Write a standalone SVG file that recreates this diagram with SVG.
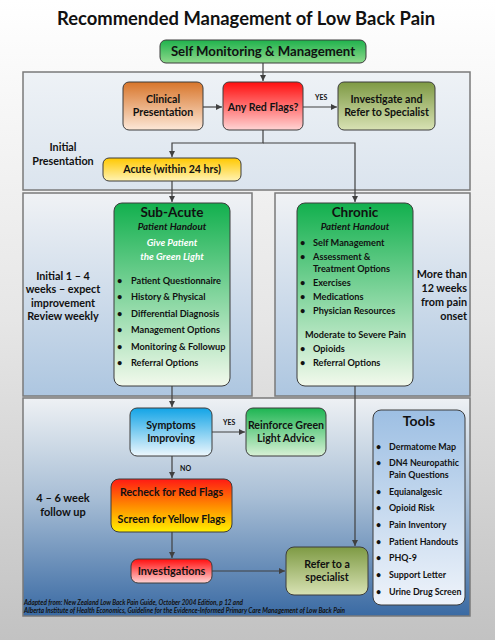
<svg xmlns="http://www.w3.org/2000/svg" width="495" height="640" viewBox="0 0 495 640">
<defs>
<linearGradient id="gPage" x1="0" y1="0" x2="0" y2="1"><stop offset="0" stop-color="#ffffff"/><stop offset="0.5" stop-color="#e6e6e6"/><stop offset="1" stop-color="#c2c2c2"/></linearGradient>
<linearGradient id="gP1" x1="0" y1="0" x2="0" y2="1"><stop offset="0" stop-color="#eef2f6"/><stop offset="1" stop-color="#dbe4ee"/></linearGradient>
<linearGradient id="gP2" x1="0" y1="0" x2="0" y2="1"><stop offset="0" stop-color="#f0f2f5"/><stop offset="1" stop-color="#adc6e0"/></linearGradient>
<linearGradient id="gP3" x1="0" y1="0" x2="0" y2="1"><stop offset="0" stop-color="#eef1f4"/><stop offset="0.45" stop-color="#a9bfd6"/><stop offset="1" stop-color="#3a6aa3"/></linearGradient>
<linearGradient id="gGreen" x1="0" y1="0" x2="0" y2="1"><stop offset="0" stop-color="#1fb24c"/><stop offset="1" stop-color="#8ed98c"/></linearGradient>
<linearGradient id="gGreen2" x1="0" y1="0" x2="0" y2="1"><stop offset="0" stop-color="#12b04e"/><stop offset="1" stop-color="#f2f9ec"/></linearGradient>
<linearGradient id="gGreen3" x1="0" y1="0" x2="0" y2="1"><stop offset="0" stop-color="#1db552"/><stop offset="1" stop-color="#d9f1d6"/></linearGradient>
<linearGradient id="gOrange" x1="0" y1="0" x2="0" y2="1"><stop offset="0" stop-color="#d8752a"/><stop offset="1" stop-color="#fde8d8"/></linearGradient>
<linearGradient id="gRed" x1="0" y1="0" x2="0" y2="1"><stop offset="0" stop-color="#ff0e0e"/><stop offset="1" stop-color="#ffd4d4"/></linearGradient>
<linearGradient id="gOlive" x1="0" y1="0" x2="0" y2="1"><stop offset="0" stop-color="#7e9a44"/><stop offset="1" stop-color="#d8e2b4"/></linearGradient>
<linearGradient id="gYellow" x1="0" y1="0" x2="0" y2="1"><stop offset="0" stop-color="#ffc800"/><stop offset="1" stop-color="#fff3b4"/></linearGradient>
<linearGradient id="gBlue" x1="0" y1="0" x2="0" y2="1"><stop offset="0" stop-color="#12a4e6"/><stop offset="1" stop-color="#eef7fd"/></linearGradient>
<linearGradient id="gFlags" x1="0" y1="0" x2="0" y2="1"><stop offset="0" stop-color="#ff1a14"/><stop offset="0.5" stop-color="#ff8a00"/><stop offset="1" stop-color="#fff000"/></linearGradient>
<linearGradient id="gTools" x1="0" y1="0" x2="0" y2="1"><stop offset="0" stop-color="#9dbfe3"/><stop offset="1" stop-color="#eef3fa"/></linearGradient>
<marker id="arr" markerWidth="8" markerHeight="8" refX="6" refY="3" orient="auto" markerUnits="userSpaceOnUse"><path d="M0,0 L6,3 L0,6 Z" fill="#404040"/></marker>
</defs>
<style>
text{font-family:Lato,"Liberation Sans",sans-serif;font-weight:bold;fill:#111111}
.c{text-anchor:middle}
.r{text-anchor:end}
.panel{stroke:#7a7a7a;stroke-width:1.5}
.box{stroke:#3c3c3c;stroke-width:1}
.lbl{font-size:10.6px}
.bl{font-size:9.2px}
.side{font-size:10.8px}
.conn line,.conn polyline{stroke:#404040;stroke-width:1.2;fill:none}
.ital{font-style:italic}
.tag{font-size:7px}
</style>
<rect x="0" y="0" width="495" height="640" fill="url(#gPage)"/>
<text class="c" x="246" y="25" style="font-size:18.4px">Recommended Management of Low Back Pain</text>

<g id="panel-initial"><rect class="panel" x="23" y="72" width="447" height="118" fill="url(#gP1)"/></g>
<g id="panel-subacute"><rect class="panel" x="23" y="193" width="229" height="203" fill="url(#gP2)"/></g>
<g id="panel-chronic"><rect class="panel" x="275" y="193" width="195" height="203" fill="url(#gP2)"/></g>
<g id="panel-followup"><rect class="panel" x="23" y="398" width="447" height="218" fill="url(#gP3)"/></g>

<g class="conn">
<line x1="263" y1="63" x2="263" y2="81" marker-end="url(#arr)"/>
<line x1="203" y1="107" x2="222" y2="107" marker-end="url(#arr)"/>
<line x1="303" y1="107" x2="337" y2="107" marker-end="url(#arr)"/>
<polyline points="263,130 263,143 172,143 172,157" marker-end="url(#arr)"/>
<polyline points="263,143 355,143 355,202" marker-end="url(#arr)"/>
<line x1="172" y1="181" x2="172" y2="202" marker-end="url(#arr)"/>
<line x1="172" y1="386" x2="172" y2="407" marker-end="url(#arr)"/>
<line x1="212" y1="432" x2="245" y2="432" marker-end="url(#arr)"/>
<line x1="172" y1="456" x2="172" y2="478" marker-end="url(#arr)"/>
<line x1="172" y1="532" x2="172" y2="558" marker-end="url(#arr)"/>
<line x1="212" y1="571" x2="285" y2="571" marker-end="url(#arr)"/>
<line x1="355" y1="386" x2="355" y2="546" marker-end="url(#arr)"/>
</g>
<text class="tag" x="315" y="100">YES</text>
<text class="tag" x="223" y="425">YES</text>
<text class="tag" x="180" y="471">NO</text>

<g id="self-monitoring"><rect class="box" x="160" y="40" width="206" height="23" rx="6" fill="url(#gGreen)"/><text class="c" x="263" y="56" style="font-size:13.2px">Self Monitoring &amp; Management</text></g>
<g id="clinical"><rect class="box" x="123" y="82" width="80" height="48" rx="6" fill="url(#gOrange)"/><text class="c lbl" x="163" y="103">Clinical</text><text class="c lbl" x="163" y="116">Presentation</text></g>
<g id="red-flags"><rect class="box" x="223" y="82" width="80" height="48" rx="6" fill="url(#gRed)"/><text class="c lbl" x="263" y="111">Any Red Flags?</text></g>
<g id="investigate"><rect class="box" x="338" y="82" width="97" height="48" rx="6" fill="url(#gOlive)"/><text class="c lbl" x="386.5" y="103">Investigate and</text><text class="c lbl" x="386.5" y="116">Refer to Specialist</text></g>
<g id="initial-label"><text class="c side" x="63" y="151">Initial</text><text class="c side" x="63" y="165">Presentation</text></g>
<g id="acute"><rect class="box" x="103" y="158" width="138" height="23" rx="6" fill="url(#gYellow)"/><text class="c lbl" x="172" y="173">Acute (within 24 hrs)</text></g>

<g id="subacute-label"><text class="c side" x="63" y="280">Initial 1 – 4</text><text class="c side" x="63" y="293">weeks – expect</text><text class="c side" x="63" y="306.5">improvement</text><text class="c side" x="63" y="320">Review weekly</text></g>
<g id="subacute">
<rect class="box" x="114" y="203" width="116" height="183" rx="8" fill="url(#gGreen2)"/>
<text class="c" x="172" y="216.5" style="font-size:13.5px">Sub-Acute</text>
<text class="c ital" x="172" y="230" style="font-size:9.8px">Patient Handout</text>
<text class="c ital" x="172" y="246" style="font-size:9.8px;fill:#ffffff">Give Patient</text>
<text class="c ital" x="172" y="260" style="font-size:9.8px;fill:#ffffff">the Green Light</text>
<g class="bl"><text x="117" y="283.5">•</text><text x="131" y="283.5">Patient Questionnaire</text>
<text x="117" y="300">•</text><text x="131" y="300">History &amp; Physical</text>
<text x="117" y="316.5">•</text><text x="131" y="316.5">Differential Diagnosis</text>
<text x="117" y="333">•</text><text x="131" y="333">Management Options</text>
<text x="117" y="349.5">•</text><text x="131" y="349.5">Monitoring &amp; Followup</text>
<text x="117" y="366">•</text><text x="131" y="366">Referral Options</text></g>
</g>

<g id="chronic">
<rect class="box" x="297" y="203" width="116" height="183" rx="8" fill="url(#gGreen2)"/>
<text class="c" x="355" y="217" style="font-size:13.5px">Chronic</text>
<text class="c ital" x="355" y="230" style="font-size:9.8px">Patient Handout</text>
<g class="bl"><text x="300" y="245.5">•</text><text x="313" y="245.5">Self Management</text>
<text x="300" y="259.5">•</text><text x="313" y="259.5">Assessment &amp;</text>
<text x="313" y="271.5">Treatment Options</text>
<text x="300" y="285.5">•</text><text x="313" y="285.5">Exercises</text>
<text x="300" y="299.5">•</text><text x="313" y="299.5">Medications</text>
<text x="300" y="313.5">•</text><text x="313" y="313.5">Physician Resources</text>
<text x="305" y="337.5">Moderate to Severe Pain</text>
<text x="300" y="351.5">•</text><text x="313" y="351.5">Opioids</text>
<text x="300" y="365.5">•</text><text x="313" y="365.5">Referral Options</text></g>
</g>
<g id="chronic-label"><text class="r side" x="467" y="278">More than</text><text class="r side" x="467" y="292">12 weeks</text><text class="r side" x="467" y="305.5">from pain</text><text class="r side" x="467" y="319.5">onset</text></g>

<g id="symptoms"><rect class="box" x="130" y="408" width="82" height="48" rx="7" fill="url(#gBlue)"/><text class="c lbl" x="171" y="429">Symptoms</text><text class="c lbl" x="171" y="442">Improving</text></g>
<g id="reinforce"><rect class="box" x="246" y="408" width="80" height="48" rx="7" fill="url(#gGreen3)"/><text class="c lbl" x="286" y="429">Reinforce Green</text><text class="c lbl" x="286" y="442">Light Advice</text></g>
<g id="followup-label"><text class="c" x="63" y="502" style="font-size:11px">4 – 6 week</text><text class="c" x="63" y="516" style="font-size:11px">follow up</text></g>
<g id="recheck"><rect class="box" x="111" y="479" width="121" height="53" rx="8" fill="url(#gFlags)"/><text class="c lbl" x="171.5" y="496">Recheck for Red Flags</text><text class="c lbl" x="171.5" y="523">Screen for Yellow Flags</text></g>
<g id="investigations"><rect class="box" x="131" y="559" width="81" height="24" rx="7" fill="url(#gRed)"/><text class="c" x="171.5" y="575" style="font-size:10.9px">Investigations</text></g>
<g id="refer"><rect class="box" x="286" y="547" width="82" height="48" rx="8" fill="url(#gOlive)"/><text class="c lbl" x="327" y="568">Refer to a</text><text class="c lbl" x="327" y="581">specialist</text></g>
<g id="tools">
<rect class="box" x="373" y="410" width="92" height="195" rx="8" fill="url(#gTools)"/>
<text class="c" x="419" y="426" style="font-size:14px">Tools</text>
<g style="font-size:8.9px"><text x="376" y="450">•</text><text x="389" y="450">Dermatome Map</text>
<text x="376" y="466">•</text><text x="389" y="466">DN4 Neuropathic</text>
<text x="389" y="478">Pain Questions</text>
<text x="376" y="495">•</text><text x="389" y="495">Equianalgesic</text>
<text x="376" y="511">•</text><text x="389" y="511">Opioid Risk</text>
<text x="376" y="528">•</text><text x="389" y="528">Pain Inventory</text>
<text x="376" y="545">•</text><text x="389" y="545">Patient Handouts</text>
<text x="376" y="561">•</text><text x="389" y="561">PHQ-9</text>
<text x="376" y="578">•</text><text x="389" y="578">Support Letter</text>
<text x="376" y="595">•</text><text x="389" y="595">Urine Drug Screen</text></g>
</g>
<g id="footnote"><text class="ital" x="24" y="605" style="font-size:6.5px" textLength="219" lengthAdjust="spacingAndGlyphs">Adapted from: New Zealand Low Back Pain Guide, October 2004 Edition, p 12 and</text><text class="ital" x="24" y="613" style="font-size:6.5px" textLength="321" lengthAdjust="spacingAndGlyphs">Alberta Institute of Health Economics, Guideline for the Evidence-Informed Primary Care Management of Low Back Pain</text></g>
</svg>
